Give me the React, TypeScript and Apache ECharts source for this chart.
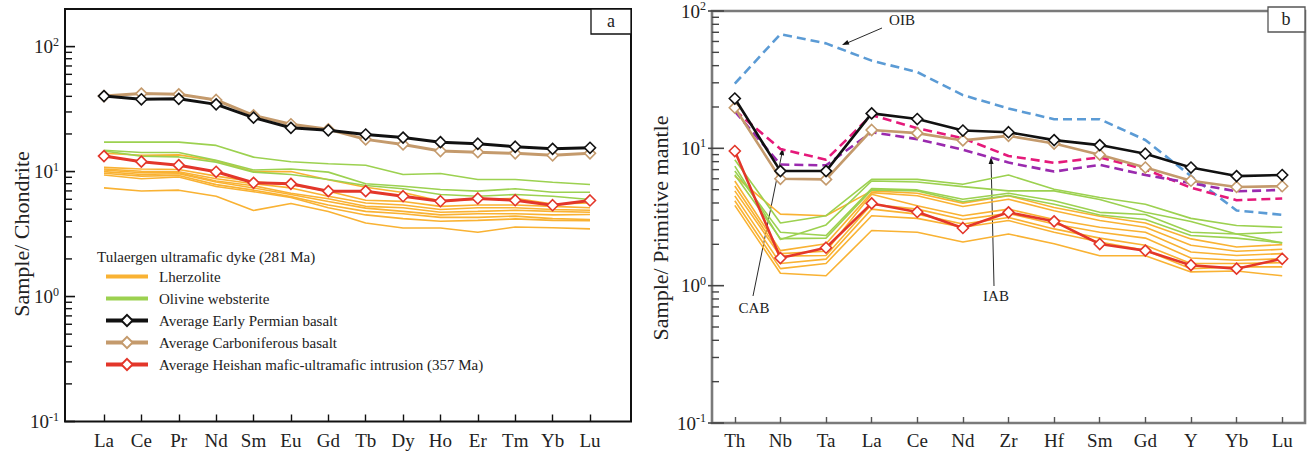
import React, { useEffect, useRef } from 'react';
import * as echarts from 'echarts';

// ---------- categories ----------
const REE = ['La', 'Ce', 'Pr', 'Nd', 'Sm', 'Eu', 'Gd', 'Tb', 'Dy', 'Ho', 'Er', 'Tm', 'Yb', 'Lu'];
const SPIDER = ['Th', 'Nb', 'Ta', 'La', 'Ce', 'Nd', 'Zr', 'Hf', 'Sm', 'Gd', 'Y', 'Yb', 'Lu'];
const DECADES = [0.1, 1, 10, 100];
const MINOR_STEPS = [2, 3, 4, 5, 6, 7, 8, 9];

// ---------- panel a : chondrite-normalised REE ----------
const lherzoliteREE = [
  [7.4, 7.0, 7.1, 6.35, 4.88, 5.55, 4.8, 3.88, 3.54, 3.54, 3.27, 3.6, 3.55, 3.48],
  [14.0, 13.5, 13.6, 12.2, 10.0, 10.0, 8.6, 7.5, 6.8, 5.8, 6.0, 6.1, 5.5, 5.6],
  [10.8, 10.5, 10.4, 9.2, 8.3, 7.86, 6.97, 5.9, 5.77, 5.27, 5.4, 5.4, 5.27, 5.13],
  [10.5, 10.07, 9.96, 8.75, 8.0, 7.4, 6.35, 5.6, 5.4, 4.97, 5.13, 5.13, 4.97, 4.9],
  [10.3, 9.78, 9.78, 8.4, 7.7, 6.7, 6.06, 5.27, 5.13, 4.72, 4.8, 4.9, 4.8, 4.72],
  [10.0, 9.48, 9.6, 8.25, 7.4, 6.55, 5.77, 5.1, 4.8, 4.5, 4.6, 4.6, 4.5, 4.53],
  [9.7, 9.2, 9.3, 7.86, 7.1, 6.3, 5.4, 4.8, 4.6, 4.3, 4.3, 4.4, 4.2, 4.13],
  [9.4, 8.75, 9.05, 7.6, 6.9, 6.2, 5.13, 4.5, 4.2, 4.0, 4.07, 4.18, 4.07, 4.05],
];
const websteriteREE = [
  [17.2, 17.2, 17.2, 16.2, 13.05, 12.0, 11.55, 11.25, 9.48, 9.66, 8.64, 8.64, 8.22, 7.88],
  [14.8, 14.2, 14.2, 12.3, 10.3, 10.5, 9.9, 7.98, 7.64, 7.18, 6.97, 7.28, 6.84, 6.84],
  [14.6, 13.3, 13.1, 11.9, 9.9, 9.48, 8.64, 7.74, 7.28, 6.55, 6.35, 6.55, 6.35, 5.97],
];
const earlyPermianREE = [40.2, 37.9, 38.2, 34.5, 27.0, 22.4, 21.4, 19.8, 18.7, 17.2, 16.7, 15.8, 15.2, 15.5];
const carboniferousREE = [40.2, 42.1, 41.5, 37.4, 28.2, 23.9, 21.8, 18.1, 16.5, 14.6, 14.3, 14.0, 13.5, 14.0];
const heishanREE = [13.3, 12.0, 11.25, 9.96, 8.13, 7.98, 6.97, 6.97, 6.35, 5.79, 6.09, 5.9, 5.38, 5.87];

// ---------- panel b : primitive-mantle-normalised ----------
const lherzolitePM = [
  [6.28, 3.32, 3.23, 4.9, 4.71, 3.99, 4.51, 3.71, 3.2, 2.86, 2.19, 1.91, 1.99],
  [5.78, 1.8, 2.02, 4.76, 4.51, 3.77, 4.26, 3.51, 2.98, 2.66, 1.97, 1.78, 1.84],
  [5.32, 1.71, 1.78, 4.63, 3.82, 3.23, 3.61, 3.03, 2.66, 2.45, 1.76, 1.66, 1.71],
  [4.9, 1.64, 1.66, 3.92, 3.61, 3.03, 3.36, 2.81, 2.45, 2.22, 1.59, 1.53, 1.57],
  [4.51, 1.45, 1.56, 3.61, 3.32, 2.81, 3.14, 2.59, 2.22, 1.97, 1.45, 1.45, 1.47],
  [4.15, 1.33, 1.45, 3.23, 3.09, 2.66, 2.98, 2.45, 2.08, 1.81, 1.33, 1.37, 1.37],
  [3.84, 1.23, 1.18, 2.52, 2.45, 2.08, 2.38, 2.02, 1.65, 1.65, 1.26, 1.28, 1.18],
];
const websteritePM = [
  [8.27, 2.86, 3.23, 5.94, 5.94, 5.47, 6.39, 5.03, 4.38, 3.92, 3.09, 2.74, 2.66],
  [7.42, 2.17, 2.77, 5.78, 5.69, 5.26, 4.9, 4.9, 4.24, 3.42, 2.93, 2.38, 2.45],
  [6.83, 2.45, 2.32, 5.09, 4.98, 4.26, 4.71, 4.15, 3.42, 3.3, 2.45, 2.38, 2.05],
  [6.42, 2.2, 2.22, 4.98, 4.9, 4.08, 4.53, 3.92, 3.27, 3.03, 2.32, 2.22, 2.05],
];
const earlyPermianPM = [23.05, 6.83, 6.83, 17.97, 16.35, 13.48, 13.1, 11.48, 10.56, 9.14, 7.25, 6.28, 6.39];
const carboniferousPM = [19.75, 6.0, 5.94, 13.6, 12.9, 11.42, 12.33, 10.83, 8.99, 7.25, 5.81, 5.23, 5.3];
const heishanPM = [9.56, 1.59, 1.89, 3.97, 3.44, 2.63, 3.42, 2.94, 2.01, 1.8, 1.41, 1.33, 1.57];
const oibPM = [29.6, 67.8, 58.1, 43.5, 35.9, 24.4, 19.5, 16.3, 16.3, 11.5, 6.28, 3.53, 3.28];
const cabPM = [18.9, 9.89, 8.27, 17.47, 14.01, 11.86, 8.8, 7.84, 8.59, 7.03, 5.17, 4.19, 4.31];
const iabPM = [18.6, 7.62, 7.52, 13.1, 11.67, 9.77, 7.88, 6.77, 7.58, 6.4, 5.58, 4.86, 4.98];

const LEGEND_NAMES = [
  'Lherzolite',
  'Olivine websterite',
  'Average Early Permian basalt',
  'Average Carboniferous basalt',
  'Average Heishan mafic-ultramafic intrusion (357 Ma)',
];

const FONT = 'Liberation Serif';
const COL = {
  lherz: '#F9B233',
  web: '#9CD150',
  ep: '#111111',
  carb: '#C49A6C',
  hei: '#E3362A',
  oib: '#5B9BD5',
  cab: '#E5197A',
  iab: '#9A2AAE',
};
const GRID_A = { left: 65, top: 9, width: 566, height: 412.5 };
const GRID_B = { left: 712, top: 7, width: 593, height: 416 };

const tickValues = (max: number) => {
  const out: number[] = [...DECADES.filter((d) => d <= max)];
  DECADES.forEach((d) => MINOR_STEPS.forEach((m) => { if (m * d < max) out.push(m * d); }));
  return out;
};

const powLabel = (v: number) => {
  const e = Math.round(Math.log10(v));
  if (Math.abs(v - Math.pow(10, e)) > 1e-6 * v) return '';
  return `{b|10}{s|${e}}`;
};
const powRich = {
  b: { fontFamily: FONT, fontSize: 19, color: '#222' },
  s: { fontFamily: FONT, fontSize: 12, color: '#222', padding: [0, 0, 10, 0] },
};

function thinSeries(name: string, data: any[], color: string, gi: number, z: number) {
  return {
    type: 'line', name, xAxisIndex: gi, yAxisIndex: gi, data,
    symbol: 'none',
    lineStyle: { color, width: 1.6 },
    itemStyle: { color },
    emphasis: { disabled: true }, silent: true, z,
  };
}
function avgSeries(name: string, data: any[], color: string, gi: number, width: number, z: number) {
  return {
    type: 'line', name, xAxisIndex: gi, yAxisIndex: gi, data,
    symbol: 'diamond', symbolSize: 11, showSymbol: true,
    lineStyle: { color, width },
    itemStyle: { color: '#ffffff', borderColor: color, borderWidth: 1.6 },
    emphasis: { disabled: true }, silent: true, z,
  };
}
function dashSeries(name: string, data: any[], color: string, z: number) {
  return {
    type: 'line', name, xAxisIndex: 1, yAxisIndex: 1, data,
    symbol: 'none',
    lineStyle: { color, width: 2.6, type: [9, 5] },
    emphasis: { disabled: true }, silent: true, z,
  };
}
// y-axis ticks (decades and 2..9 sub-ticks), placed through the log axis
function tickSeries(gi: number, left: number, max: number, color: string, majorIn: number, majorOut: number) {
  return {
    type: 'custom', xAxisIndex: gi, yAxisIndex: gi, clip: false, z: 20,
    data: tickValues(max).map((v) => [0, v]),
    renderItem: (_params: any, api: any) => {
      const v = api.value(1);
      const p = api.coord([api.value(0), v]);
      const major = DECADES.some((d) => Math.abs(d - v) < 1e-9);
      return {
        type: 'line',
        shape: { x1: left - (major ? majorOut : 0), y1: p[1], x2: left + (major ? majorIn : 7), y2: p[1] },
        style: { stroke: color, lineWidth: major ? 1.6 : 1.4 },
      };
    },
  };
}

const pairs = (vals: number[]) => vals.map((v, i) => [i, v]);

function logAxis(gi: number, max: number) {
  return {
    type: 'log', logBase: 10, gridIndex: gi, min: 0.1, max,
    axisLine: { show: false, onZero: false },
    splitLine: { show: false },
    axisTick: { show: false },
    axisLabel: { margin: 6, customValues: DECADES, formatter: powLabel, rich: powRich },
  };
}

export default function App() {
  const ref = useRef<HTMLDivElement>(null);
  useEffect(() => {
    if (!ref.current) return;
    const chart = echarts.init(ref.current, undefined, { renderer: 'svg' });

    const series: any[] = [];
    lherzoliteREE.forEach((d) => series.push(thinSeries('Lherzolite', pairs(d), COL.lherz, 0, 2)));
    websteriteREE.forEach((d) => series.push(thinSeries('Olivine websterite', pairs(d), COL.web, 0, 3)));
    series.push(avgSeries(LEGEND_NAMES[3], pairs(carboniferousREE), COL.carb, 0, 3, 5));
    series.push(avgSeries(LEGEND_NAMES[2], pairs(earlyPermianREE), COL.ep, 0, 3, 6));
    series.push(avgSeries(LEGEND_NAMES[4], pairs(heishanREE), COL.hei, 0, 3, 7));

    lherzolitePM.forEach((d) => series.push(thinSeries('Lherzolite', d, COL.lherz, 1, 2)));
    websteritePM.forEach((d) => series.push(thinSeries('Olivine websterite', d, COL.web, 1, 3)));
    series.push(dashSeries('OIB', oibPM, COL.oib, 4));
    series.push(dashSeries('CAB', cabPM, COL.cab, 4));
    series.push(dashSeries('IAB', iabPM, COL.iab, 4));
    series.push(avgSeries(LEGEND_NAMES[3], carboniferousPM, COL.carb, 1, 2.6, 5));
    series.push(avgSeries(LEGEND_NAMES[2], earlyPermianPM, COL.ep, 1, 2.6, 6));
    series.push(avgSeries(LEGEND_NAMES[4], heishanPM, COL.hei, 1, 2.6, 7));

    series.push(tickSeries(0, GRID_A.left, 200, '#111', 10, 0));
    series.push(tickSeries(1, GRID_B.left, 100, '#444', 12, 4));

    const REE_IDX = REE.map((_, i) => i);
    const labelStyle = { fontFamily: FONT, fontSize: 19, color: '#222' };

    const option: any = {
      animation: false,
      backgroundColor: '#ffffff',
      textStyle: { fontFamily: FONT },
      grid: [
        { ...GRID_A, show: true, borderColor: '#111', borderWidth: 2, backgroundColor: 'transparent' },
        { ...GRID_B, show: true, borderColor: '#7a7a7a', borderWidth: 2.6, backgroundColor: 'transparent' },
      ],
      xAxis: [
        {
          type: 'value', gridIndex: 0, min: -1.043, max: 14.097,
          axisLine: { show: false, onZero: false },
          splitLine: { show: false },
          axisTick: { show: true, inside: true, length: 7, customValues: REE_IDX, lineStyle: { color: '#111', width: 1.4 } },
          axisLabel: { ...labelStyle, margin: 9, customValues: REE_IDX, formatter: (v: number) => REE[Math.round(v)] ?? '' },
        },
        {
          type: 'category', gridIndex: 1, data: SPIDER, boundaryGap: true,
          axisLine: { show: false, onZero: false },
          splitLine: { show: false },
          axisTick: { show: true, inside: true, length: 6, alignWithLabel: true, interval: 0, lineStyle: { color: '#555', width: 1.4 } },
          axisLabel: { ...labelStyle, margin: 8, interval: 0 },
        },
      ],
      yAxis: [logAxis(0, 200), logAxis(1, 100)],
      legend: {
        data: LEGEND_NAMES.map((name, i) => (i < 2 ? { name, itemStyle: { opacity: 0 } } : { name })),
        orient: 'vertical', left: 99, top: 264,
        itemWidth: 42, itemHeight: 14, itemGap: 7,
        selectedMode: false,
        textStyle: { fontFamily: FONT, fontSize: 15, color: '#222', padding: [0, 0, 0, 6] },
        lineStyle: { width: 4 },
      },
      series,
    };

    const txt = (text: string, x: number, y: number, size: number, extra: any = {}) => ({
      type: 'text', x, y, silent: true, ...extra,
      style: { text, fontFamily: FONT, fontSize: size, fill: '#222', textAlign: 'center', textVerticalAlign: 'middle' },
    });

    option.graphic = [
      txt('Sample/ Chondrite', 21, 234, 22, { rotation: Math.PI / 2 }),
      txt('Sample/ Primitive mantle', 660, 228, 22, { rotation: Math.PI / 2 }),
      { type: 'rect', silent: true, shape: { x: 591, y: 9, width: 40, height: 25 }, style: { fill: '#fff', stroke: '#111', lineWidth: 1.3 } },
      txt('a', 611, 21, 18),
      { type: 'rect', silent: true, shape: { x: 1268, y: 7, width: 37, height: 25 }, style: { fill: '#fff', stroke: '#555', lineWidth: 1.3 } },
      txt('b', 1286, 19, 18),
      {
        type: 'text', x: 97, y: 257, silent: true,
        style: { text: 'Tulaergen ultramafic dyke (281 Ma)', fontFamily: FONT, fontSize: 15, fill: '#222', textAlign: 'left', textVerticalAlign: 'middle' },
      },
      // annotations panel b
      txt('OIB', 902, 20, 15),
      { type: 'line', silent: true, shape: { x1: 882, y1: 28, x2: 846, y2: 43.5 }, style: { stroke: '#111', lineWidth: 0.9 } },
      { type: 'polygon', silent: true, shape: { points: [[842, 45], [849.4, 44.6], [847.4, 40]] }, style: { fill: '#111' } },
      txt('CAB', 754, 308, 15),
      { type: 'line', silent: true, shape: { x1: 753, y1: 296, x2: 782, y2: 153 }, style: { stroke: '#111', lineWidth: 0.9 } },
      { type: 'polygon', silent: true, shape: { points: [[783, 148], [784.1, 155.4], [779.2, 154.4]] }, style: { fill: '#111' } },
      txt('IAB', 996, 296, 15),
      { type: 'line', silent: true, shape: { x1: 994, y1: 286, x2: 991.1, y2: 162 }, style: { stroke: '#111', lineWidth: 0.9 } },
      { type: 'polygon', silent: true, shape: { points: [[991, 157], [993.6, 164], [988.6, 164]] }, style: { fill: '#111' } },
    ];
    chart.setOption(option);

    return () => chart.dispose();
  }, []);

  return <div ref={ref} style={{ position: 'fixed', left: 0, top: 0, width: 1312, height: 452, background: '#fff' }} />;
}
